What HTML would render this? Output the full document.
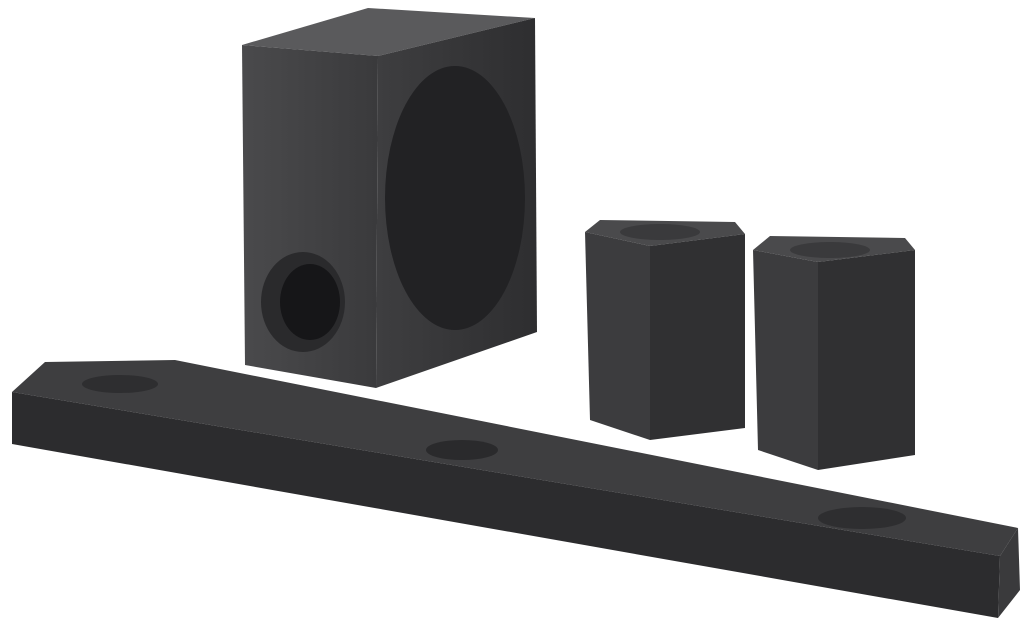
<!DOCTYPE html>
<html><head><meta charset="utf-8"><style>html,body{margin:0;padding:0;background:#fff;width:1024px;height:624px;overflow:hidden}</style></head>
<body>
<svg width="1024" height="624" viewBox="0 0 1024 624" xmlns="http://www.w3.org/2000/svg">
<defs>
<linearGradient id="sl" x1="0" x2="1"><stop offset="0" stop-color="#4a4a4c"/><stop offset="1" stop-color="#3a3a3c"/></linearGradient>
<linearGradient id="sr" x1="0" x2="1"><stop offset="0" stop-color="#3e3e40"/><stop offset="1" stop-color="#2e2e30"/></linearGradient>
</defs>
<!-- subwoofer -->
<polygon points="242,45 368,8 535,18 378,56" fill="#5a5a5c"/>
<polygon points="242,45 378,56 376,388 245,365" fill="url(#sl)"/>
<polygon points="378,56 535,18 537,332 376,388" fill="url(#sr)"/>
<ellipse cx="455" cy="198" rx="70" ry="132" fill="#222224"/>
<ellipse cx="303" cy="302" rx="42" ry="50" fill="#2a2a2c"/>
<ellipse cx="310" cy="302" rx="30" ry="38" fill="#161618"/>
<!-- rear speaker 1 -->
<polygon points="585,232 600,220 735,222 745,234 650,246" fill="#4a4a4c"/>
<polygon points="585,232 650,246 650,440 590,420" fill="#3c3c3e"/>
<polygon points="650,246 745,234 745,428 650,440" fill="#303032"/>
<ellipse cx="660" cy="232" rx="40" ry="8" fill="#3a3a3c"/>
<!-- rear speaker 2 -->
<polygon points="753,250 770,236 905,238 915,250 818,262" fill="#4a4a4c"/>
<polygon points="753,250 818,262 818,470 758,450" fill="#3c3c3e"/>
<polygon points="818,262 915,250 915,455 818,470" fill="#303032"/>
<ellipse cx="830" cy="250" rx="40" ry="8" fill="#3a3a3c"/>
<!-- soundbar -->
<polygon points="12,392 45,362 175,360 1018,528 1000,556" fill="#3e3e40"/>
<polygon points="12,392 1000,556 998,618 12,444" fill="#2c2c2e"/>
<polygon points="1000,556 1018,528 1020,590 998,618" fill="#3a3a3c"/>
<ellipse cx="120" cy="384" rx="38" ry="9" fill="#2e2e30"/>
<ellipse cx="462" cy="450" rx="36" ry="10" fill="#2a2a2c"/>
<ellipse cx="862" cy="518" rx="44" ry="11" fill="#2e2e30"/>
</svg>
</body></html>
